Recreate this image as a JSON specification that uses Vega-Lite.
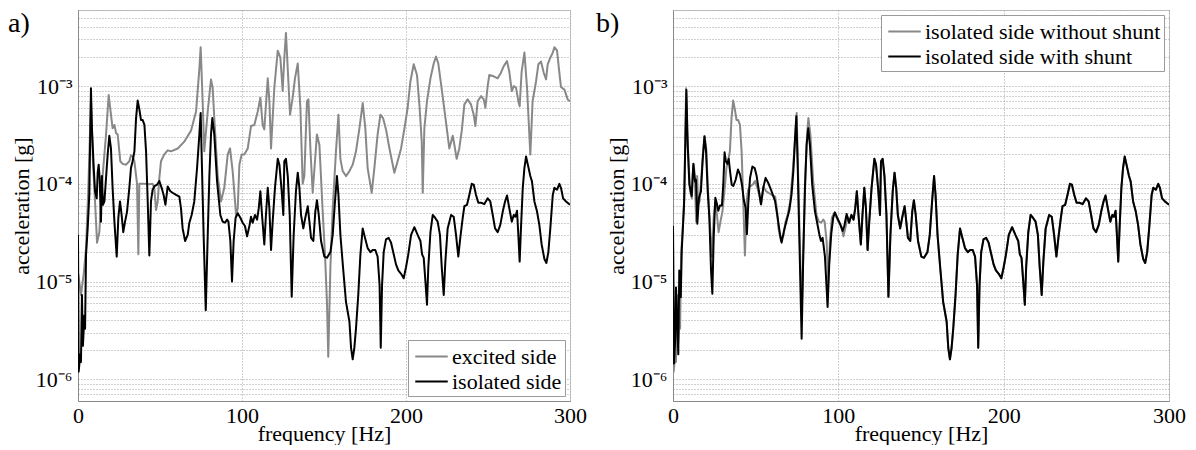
{
  "$schema": "https://vega.github.io/schema/vega-lite/v6.json",
  "padding": {"left": 7, "top": 8, "right": 0, "bottom": 0},
  "spacing": 8,
  "background": "white",
  "config": {
    "font": "Liberation Serif",
    "view": {"stroke": "#c8c8c8"},
    "axis": {
      "labelFont": "Liberation Serif", "titleFont": "Liberation Serif",
      "labelFontSize": 22, "titleFontSize": 22, "titleFontWeight": "normal",
      "labelColor": "#000000", "titleColor": "#000000",
      "domainColor": "#8a8a8a", "ticks": false,
      "gridColor": "#a0a0a0", "gridDash": [1, 2], "gridWidth": 1, "gridOpacity": 1,
      "labelFlush": false, "labelOverlap": false
    },
    "legend": {
      "labelFont": "Liberation Serif", "labelFontSize": 22, "labelColor": "#000000",
      "symbolType": "M-1.3,0H1.3", "symbolSize": 625, "symbolStrokeWidth": 2, "symbolOffset": 7,
      "fillColor": "white", "strokeColor": "#9a9a9a", "padding": 3, "rowPadding": -1,
      "labelOffset": 7, "labelLimit": 400, "offset": 5
    },
    "title": {"font": "Liberation Serif", "fontSize": 28, "fontWeight": "normal", "color": "#000000"}
  },
  "datasets": {
    "excited": [
      {"f":0.2,"a":1.2e-5},{"f":1.8,"a":7.3e-6},{"f":3.5,"a":1.2e-5},{"f":4.9,"a":2.2e-5},{"f":6.3,"a":9.1e-5},{"f":7.9,"a":7.0e-4},{"f":9.1,"a":1.7e-4},{"f":10.4,"a":6.6e-5},{"f":11.6,"a":2.5e-5},{"f":13.0,"a":3.2e-5},{"f":15.0,"a":1.2e-4},{"f":17.1,"a":3.2e-4},{"f":18.7,"a":8.1e-4},{"f":20.1,"a":5.1e-4},{"f":21.1,"a":3.7e-4},{"f":22.2,"a":4.0e-4},{"f":23.2,"a":3.3e-4},{"f":24.2,"a":3.2e-4},{"f":25.8,"a":1.7e-4},{"f":27.2,"a":1.6e-4},{"f":29.3,"a":1.57e-4},{"f":31.3,"a":1.7e-4},{"f":32.3,"a":1.96e-4},{"f":33.3,"a":1.9e-4},{"f":34.4,"a":1.7e-4},{"f":36.0,"a":1.0e-4},{"f":36.8,"a":1.9e-5},{"f":37.4,"a":1.0e-4},{"f":40.5,"a":1.0e-4},{"f":43.5,"a":9.9e-5},{"f":45.5,"a":1.0e-4},{"f":46.5,"a":9.1e-5},{"f":47.6,"a":5.4e-5},{"f":48.6,"a":6.6e-5},{"f":49.6,"a":1.15e-4},{"f":50.6,"a":1.7e-4},{"f":52.6,"a":2.0e-4},{"f":54.7,"a":2.2e-4},{"f":56.7,"a":2.15e-4},{"f":60.8,"a":2.3e-4},{"f":64.8,"a":2.7e-4},{"f":68.9,"a":3.5e-4},{"f":72.0,"a":5.5e-4},{"f":74.0,"a":1.5e-3},{"f":74.8,"a":2.5e-3},{"f":76.0,"a":7.0e-4},{"f":77.0,"a":2.15e-4},{"f":79.1,"a":5.5e-4},{"f":81.1,"a":1.17e-3},{"f":82.1,"a":9.6e-4},{"f":83.1,"a":4.7e-4},{"f":85.2,"a":1.2e-4},{"f":87.2,"a":6.6e-5},{"f":89.2,"a":9.1e-5},{"f":91.3,"a":2.0e-4},{"f":92.7,"a":2.3e-4},{"f":94.3,"a":1.35e-4},{"f":96.4,"a":4.8e-5},{"f":97.4,"a":5.6e-5},{"f":98.4,"a":1.57e-4},{"f":99.8,"a":2.0e-4},{"f":101.4,"a":2.0e-4},{"f":103.5,"a":2.3e-4},{"f":105.5,"a":3.9e-4},{"f":107.5,"a":4.0e-4},{"f":109.6,"a":5.5e-4},{"f":111.2,"a":7.6e-4},{"f":112.6,"a":4.0e-4},{"f":113.6,"a":3.6e-4},{"f":115.7,"a":1.2e-3},{"f":116.7,"a":7.0e-4},{"f":117.7,"a":2.3e-4},{"f":118.7,"a":4.7e-4},{"f":119.7,"a":9.6e-4},{"f":121.8,"a":2.3e-3},{"f":123.4,"a":1.95e-3},{"f":124.8,"a":8.9e-4},{"f":125.8,"a":1.95e-3},{"f":126.8,"a":3.5e-3},{"f":127.9,"a":1.5e-3},{"f":129.3,"a":5.1e-4},{"f":130.9,"a":7.6e-4},{"f":132.3,"a":1.2e-3},{"f":134.0,"a":1.7e-3},{"f":135.6,"a":6.0e-4},{"f":137.0,"a":1.0e-4},{"f":138.0,"a":1.2e-4},{"f":139.6,"a":7.0e-4},{"f":140.5,"a":7.3e-4},{"f":141.7,"a":2.3e-4},{"f":143.1,"a":8.1e-5},{"f":144.5,"a":1.7e-4},{"f":145.7,"a":3.2e-4},{"f":147.2,"a":2.5e-4},{"f":149.2,"a":5.2e-5},{"f":150.6,"a":1.9e-5},{"f":151.8,"a":6.2e-6},{"f":152.6,"a":1.7e-6},{"f":153.9,"a":1.4e-5},{"f":155.3,"a":5.6e-5},{"f":157.3,"a":2.15e-4},{"f":158.8,"a":5.1e-4},{"f":160.0,"a":1.8e-4},{"f":161.4,"a":1.35e-4},{"f":163.4,"a":1.2e-4},{"f":165.5,"a":1.35e-4},{"f":167.5,"a":1.57e-4},{"f":169.5,"a":2.15e-4},{"f":171.6,"a":3.7e-4},{"f":173.6,"a":6.7e-4},{"f":175.2,"a":3.7e-4},{"f":176.6,"a":1.45e-4},{"f":179.1,"a":8.1e-5},{"f":180.7,"a":1.45e-4},{"f":182.7,"a":3.2e-4},{"f":184.4,"a":5.1e-4},{"f":186.0,"a":4.7e-4},{"f":187.8,"a":3.6e-4},{"f":189.9,"a":2.3e-4},{"f":192.9,"a":1.3e-4},{"f":194.9,"a":1.7e-4},{"f":197.0,"a":2.3e-4},{"f":199.4,"a":4.0e-4},{"f":201.0,"a":6.0e-4},{"f":202.7,"a":1.12e-3},{"f":204.7,"a":1.67e-3},{"f":206.7,"a":1.3e-3},{"f":208.3,"a":6.0e-4},{"f":209.6,"a":2.7e-4},{"f":210.2,"a":8.1e-5},{"f":211.2,"a":3.7e-4},{"f":212.8,"a":7.0e-4},{"f":214.9,"a":1.2e-3},{"f":216.9,"a":1.7e-3},{"f":218.3,"a":2.0e-3},{"f":219.7,"a":1.7e-3},{"f":221.4,"a":1.04e-3},{"f":223.8,"a":5.1e-4},{"f":226.4,"a":2.3e-4},{"f":228.5,"a":3.1e-4},{"f":229.5,"a":2.5e-4},{"f":230.9,"a":1.8e-4},{"f":232.5,"a":2.3e-4},{"f":234.0,"a":3.5e-4},{"f":235.6,"a":6.5e-4},{"f":237.6,"a":7.3e-4},{"f":239.6,"a":6.5e-4},{"f":241.3,"a":5.1e-4},{"f":242.3,"a":3.9e-4},{"f":243.7,"a":7.0e-4},{"f":245.8,"a":7.9e-4},{"f":247.4,"a":7.3e-4},{"f":248.4,"a":6.0e-4},{"f":249.8,"a":1.0e-3},{"f":250.8,"a":1.3e-3},{"f":252.9,"a":1.27e-3},{"f":255.9,"a":1.2e-3},{"f":257.9,"a":1.37e-3},{"f":259.6,"a":1.6e-3},{"f":261.6,"a":1.8e-3},{"f":263.0,"a":1.4e-3},{"f":264.5,"a":8.9e-4},{"f":265.7,"a":1.0e-3},{"f":267.1,"a":9.6e-4},{"f":268.5,"a":7.0e-4},{"f":269.3,"a":6.2e-4},{"f":270.5,"a":1.4e-3},{"f":272.2,"a":2.2e-3},{"f":273.8,"a":9.6e-4},{"f":275.2,"a":3.2e-4},{"f":275.8,"a":2.0e-4},{"f":277.2,"a":7.0e-4},{"f":279.3,"a":1.12e-3},{"f":280.7,"a":1.67e-3},{"f":282.3,"a":1.78e-3},{"f":284.0,"a":1.37e-3},{"f":285.4,"a":1.17e-3},{"f":286.4,"a":1.67e-3},{"f":288.0,"a":1.95e-3},{"f":289.5,"a":2.2e-3},{"f":290.5,"a":2.5e-3},{"f":292.1,"a":2.3e-3},{"f":293.5,"a":1.37e-3},{"f":294.5,"a":9.8e-4},{"f":296.6,"a":9.2e-4},{"f":298.6,"a":7.3e-4},{"f":300,"a":7.0e-4}
    ],
    "isolated": [
      {"f":0,"a":3.0e-5},{"f":0.4,"a":1.2e-6},{"f":1.4,"a":1.8e-6},{"f":1.8,"a":1.5e-6},{"f":2.4,"a":7.3e-6},{"f":3.0,"a":2.2e-6},{"f":3.9,"a":4.5e-6},{"f":4.3,"a":3.3e-6},{"f":4.9,"a":1.9e-5},{"f":5.9,"a":3.5e-5},{"f":6.9,"a":7.7e-5},{"f":7.9,"a":9.5e-4},{"f":8.5,"a":3.7e-4},{"f":9.6,"a":1.45e-4},{"f":10.4,"a":8.4e-5},{"f":11.4,"a":7.1e-5},{"f":12.0,"a":1.3e-4},{"f":12.6,"a":1.57e-4},{"f":13.2,"a":1.15e-4},{"f":14.0,"a":4.1e-5},{"f":14.6,"a":1.2e-4},{"f":15.2,"a":6.1e-5},{"f":16.1,"a":6.6e-5},{"f":17.1,"a":1.15e-4},{"f":18.1,"a":2.0e-4},{"f":19.1,"a":3.1e-4},{"f":20.1,"a":2.3e-4},{"f":21.1,"a":9.1e-5},{"f":22.2,"a":4.1e-5},{"f":23.6,"a":1.8e-5},{"f":24.6,"a":4.5e-5},{"f":25.6,"a":6.6e-5},{"f":26.6,"a":4.8e-5},{"f":27.6,"a":3.2e-5},{"f":28.7,"a":4.1e-5},{"f":29.9,"a":5.2e-5},{"f":31.3,"a":9.1e-5},{"f":32.3,"a":1.45e-4},{"f":33.3,"a":1.7e-4},{"f":34.4,"a":2.15e-4},{"f":35.4,"a":4.7e-4},{"f":36.4,"a":7.1e-4},{"f":37.4,"a":5.8e-4},{"f":38.4,"a":4.5e-4},{"f":39.4,"a":4.5e-4},{"f":40.5,"a":4.0e-4},{"f":41.5,"a":2.15e-4},{"f":42.5,"a":6.6e-5},{"f":43.5,"a":1.85e-5},{"f":44.5,"a":6.6e-5},{"f":45.5,"a":8.7e-5},{"f":46.5,"a":9.4e-5},{"f":48.2,"a":9.8e-5},{"f":49.6,"a":1.07e-4},{"f":51.0,"a":9.1e-5},{"f":52.2,"a":7.7e-5},{"f":53.3,"a":6.1e-5},{"f":54.7,"a":9.4e-5},{"f":56.3,"a":8.4e-5},{"f":57.7,"a":8.1e-5},{"f":59.8,"a":7.7e-5},{"f":61.8,"a":7.4e-5},{"f":62.8,"a":5.6e-5},{"f":63.8,"a":3.5e-5},{"f":65.3,"a":2.6e-5},{"f":66.9,"a":3.0e-5},{"f":67.9,"a":4.0e-5},{"f":69.3,"a":4.8e-5},{"f":70.9,"a":6.6e-5},{"f":72.6,"a":1.45e-4},{"f":74.0,"a":3.2e-4},{"f":74.8,"a":5.3e-4},{"f":75.6,"a":1.45e-4},{"f":76.6,"a":3.0e-5},{"f":77.9,"a":5.1e-6},{"f":79.1,"a":3.0e-5},{"f":80.1,"a":1.2e-4},{"f":81.1,"a":3.2e-4},{"f":81.9,"a":4.7e-4},{"f":83.1,"a":3.2e-4},{"f":84.8,"a":1.06e-4},{"f":86.8,"a":4.8e-5},{"f":88.2,"a":4.1e-5},{"f":89.6,"a":4.0e-5},{"f":90.9,"a":4.3e-5},{"f":91.7,"a":4.1e-5},{"f":92.9,"a":2.6e-5},{"f":93.9,"a":1.0e-5},{"f":94.9,"a":2.6e-5},{"f":96.1,"a":4.5e-5},{"f":97.4,"a":5.0e-5},{"f":99.0,"a":4.5e-5},{"f":100.4,"a":4.0e-5},{"f":101.8,"a":3.7e-5},{"f":103.1,"a":2.9e-5},{"f":104.5,"a":3.7e-5},{"f":105.5,"a":4.6e-5},{"f":106.5,"a":4.0e-5},{"f":107.9,"a":4.8e-5},{"f":109.2,"a":4.3e-5},{"f":110.2,"a":5.6e-5},{"f":111.2,"a":8.4e-5},{"f":112.2,"a":4.8e-5},{"f":113.6,"a":2.4e-5},{"f":114.6,"a":4.8e-5},{"f":115.7,"a":9.1e-5},{"f":116.7,"a":5.6e-5},{"f":117.7,"a":2.1e-5},{"f":118.7,"a":4.1e-5},{"f":120.1,"a":9.1e-5},{"f":121.8,"a":1.8e-4},{"f":122.8,"a":1.57e-4},{"f":124.2,"a":8.4e-5},{"f":125.2,"a":4.8e-5},{"f":125.8,"a":1.7e-4},{"f":126.8,"a":1.8e-4},{"f":127.9,"a":1.2e-4},{"f":129.1,"a":4.8e-5},{"f":130.3,"a":7.0e-6},{"f":131.5,"a":3.0e-5},{"f":132.9,"a":8.4e-5},{"f":134.0,"a":1.3e-4},{"f":135.0,"a":9.1e-5},{"f":136.0,"a":4.8e-5},{"f":137.4,"a":3.5e-5},{"f":138.6,"a":4.5e-5},{"f":140.1,"a":5.9e-5},{"f":141.1,"a":4.1e-5},{"f":142.1,"a":2.8e-5},{"f":143.5,"a":2.6e-5},{"f":144.7,"a":5.2e-5},{"f":145.7,"a":6.8e-5},{"f":146.8,"a":4.8e-5},{"f":148.2,"a":2.6e-5},{"f":150.2,"a":1.8e-5},{"f":151.8,"a":1.75e-5},{"f":153.9,"a":2.0e-5},{"f":155.3,"a":3.0e-5},{"f":156.7,"a":6.6e-5},{"f":157.9,"a":1.2e-4},{"f":158.8,"a":7.7e-5},{"f":160.0,"a":3.0e-5},{"f":161.6,"a":1.4e-5},{"f":163.4,"a":6.2e-6},{"f":165.5,"a":3.9e-6},{"f":166.5,"a":2.1e-6},{"f":167.5,"a":1.6e-6},{"f":168.5,"a":2.1e-6},{"f":169.5,"a":3.3e-6},{"f":170.9,"a":7.3e-6},{"f":172.2,"a":1.9e-5},{"f":173.6,"a":3.5e-5},{"f":175.0,"a":2.8e-5},{"f":176.6,"a":2.2e-5},{"f":178.3,"a":2.0e-5},{"f":179.7,"a":2.1e-5},{"f":181.3,"a":2.1e-5},{"f":182.7,"a":1.8e-5},{"f":183.9,"a":9.2e-6},{"f":184.6,"a":2.1e-6},{"f":185.4,"a":9.2e-6},{"f":186.4,"a":2.0e-5},{"f":187.8,"a":2.7e-5},{"f":189.4,"a":2.8e-5},{"f":190.9,"a":2.5e-5},{"f":192.5,"a":1.9e-5},{"f":193.9,"a":1.5e-5},{"f":195.3,"a":1.3e-5},{"f":197.0,"a":1.2e-5},{"f":198.6,"a":1.08e-5},{"f":200.0,"a":1.4e-5},{"f":201.4,"a":1.9e-5},{"f":203.1,"a":3.0e-5},{"f":205.1,"a":3.6e-5},{"f":207.1,"a":3.0e-5},{"f":208.8,"a":2.6e-5},{"f":209.8,"a":1.9e-5},{"f":210.8,"a":1.75e-5},{"f":212.0,"a":9.2e-6},{"f":212.8,"a":5.8e-6},{"f":213.6,"a":1.4e-5},{"f":214.9,"a":3.2e-5},{"f":216.3,"a":4.8e-5},{"f":217.7,"a":4.5e-5},{"f":219.3,"a":4.1e-5},{"f":220.7,"a":3.0e-5},{"f":221.8,"a":1.4e-5},{"f":223.0,"a":7.3e-6},{"f":224.0,"a":1.6e-5},{"f":225.4,"a":3.5e-5},{"f":227.5,"a":4.8e-5},{"f":229.1,"a":4.6e-5},{"f":230.5,"a":3.0e-5},{"f":231.9,"a":1.8e-5},{"f":233.1,"a":2.8e-5},{"f":234.6,"a":4.5e-5},{"f":235.6,"a":5.9e-5},{"f":237.2,"a":6.1e-5},{"f":238.6,"a":7.7e-5},{"f":240.1,"a":1.0e-4},{"f":241.3,"a":9.8e-5},{"f":242.7,"a":7.7e-5},{"f":244.1,"a":6.4e-5},{"f":245.8,"a":6.4e-5},{"f":247.8,"a":6.2e-5},{"f":249.8,"a":7.1e-5},{"f":251.4,"a":6.6e-5},{"f":252.9,"a":4.8e-5},{"f":254.3,"a":3.5e-5},{"f":255.9,"a":3.2e-5},{"f":257.5,"a":3.8e-5},{"f":259.0,"a":5.2e-5},{"f":260.4,"a":6.6e-5},{"f":261.6,"a":7.6e-5},{"f":263.0,"a":5.6e-5},{"f":264.5,"a":4.1e-5},{"f":265.7,"a":4.8e-5},{"f":266.7,"a":4.6e-5},{"f":267.7,"a":5.3e-5},{"f":268.5,"a":3.0e-5},{"f":269.3,"a":1.6e-5},{"f":270.1,"a":3.5e-5},{"f":271.2,"a":9.1e-5},{"f":272.2,"a":1.45e-4},{"f":273.2,"a":1.9e-4},{"f":274.2,"a":1.6e-4},{"f":275.8,"a":1.2e-4},{"f":276.8,"a":1.06e-4},{"f":278.3,"a":6.6e-5},{"f":279.9,"a":5.2e-5},{"f":281.3,"a":3.8e-5},{"f":282.7,"a":2.4e-5},{"f":284.4,"a":1.7e-5},{"f":285.6,"a":1.55e-5},{"f":286.8,"a":2.0e-5},{"f":288.0,"a":3.5e-5},{"f":289.5,"a":7.7e-5},{"f":290.5,"a":9.1e-5},{"f":292.1,"a":8.7e-5},{"f":293.5,"a":1.0e-4},{"f":294.5,"a":9.1e-5},{"f":295.8,"a":7.1e-5},{"f":297.6,"a":6.6e-5},{"f":300,"a":6.1e-5}
    ],
    "shunt": [
      {"f":0,"a":3.7e-5},{"f":0.6,"a":1.45e-6},{"f":1.4,"a":2.7e-6},{"f":1.8,"a":8.7e-6},{"f":2.4,"a":4.7e-6},{"f":3.2,"a":1.8e-6},{"f":3.8,"a":1.3e-5},{"f":4.7,"a":6.9e-6},{"f":5.3,"a":2.1e-5},{"f":6.7,"a":6.2e-5},{"f":8.1,"a":9.1e-4},{"f":8.9,"a":2.5e-4},{"f":9.9,"a":9.8e-5},{"f":11.3,"a":7.5e-5},{"f":12.3,"a":1.6e-4},{"f":13.3,"a":1.06e-4},{"f":13.9,"a":1.1e-4},{"f":14.7,"a":3.9e-5},{"f":15.7,"a":7.2e-5},{"f":16.9,"a":8.4e-5},{"f":17.9,"a":1.7e-4},{"f":19.0,"a":3.05e-4},{"f":20.0,"a":2.15e-4},{"f":21.0,"a":8.4e-5},{"f":22.0,"a":4.5e-5},{"f":23.0,"a":1.3e-5},{"f":23.8,"a":7.5e-6},{"f":24.6,"a":2.8e-5},{"f":25.6,"a":7.2e-5},{"f":26.4,"a":6.4e-5},{"f":27.4,"a":5.3e-5},{"f":28.4,"a":6.0e-5},{"f":29.6,"a":6.0e-5},{"f":30.4,"a":9.8e-5},{"f":31.2,"a":2.1e-4},{"f":32.0,"a":1.7e-4},{"f":32.9,"a":1.6e-4},{"f":33.7,"a":1.8e-4},{"f":34.5,"a":1.35e-4},{"f":35.5,"a":9.8e-5},{"f":36.5,"a":9.5e-5},{"f":37.9,"a":1.1e-4},{"f":39.3,"a":1.4e-4},{"f":40.5,"a":1.25e-4},{"f":41.7,"a":9.8e-5},{"f":42.9,"a":6.7e-5},{"f":43.9,"a":5.7e-5},{"f":44.7,"a":3.05e-5},{"f":45.5,"a":6.2e-5},{"f":46.6,"a":1.15e-4},{"f":48.0,"a":1.5e-4},{"f":49.4,"a":1.45e-4},{"f":50.6,"a":1.2e-4},{"f":51.8,"a":8.8e-5},{"f":53.2,"a":6.2e-5},{"f":54.6,"a":9.1e-5},{"f":56.0,"a":1.15e-4},{"f":57.6,"a":1.02e-4},{"f":59.6,"a":8.4e-5},{"f":61.7,"a":6.7e-5},{"f":63.3,"a":4.5e-5},{"f":64.7,"a":3.05e-5},{"f":65.7,"a":2.5e-5},{"f":67.1,"a":3.3e-5},{"f":68.7,"a":4.2e-5},{"f":70.3,"a":5.3e-5},{"f":71.7,"a":7.8e-5},{"f":72.8,"a":1.35e-4},{"f":73.8,"a":2.9e-4},{"f":74.6,"a":4.9e-4},{"f":75.4,"a":1.6e-4},{"f":76.4,"a":2.8e-5},{"f":77.8,"a":2.6e-6},{"f":78.8,"a":1.9e-5},{"f":79.8,"a":9.1e-5},{"f":80.8,"a":2.5e-4},{"f":81.8,"a":3.7e-4},{"f":82.8,"a":2.5e-4},{"f":84.2,"a":9.8e-5},{"f":85.8,"a":5.3e-5},{"f":87.3,"a":3.9e-5},{"f":88.5,"a":3.05e-5},{"f":89.5,"a":2.6e-5},{"f":90.5,"a":2.8e-5},{"f":91.9,"a":1.8e-5},{"f":93.5,"a":5.5e-6},{"f":94.5,"a":1.5e-5},{"f":95.7,"a":3.05e-5},{"f":96.9,"a":4.5e-5},{"f":97.9,"a":5.1e-5},{"f":99.3,"a":4.5e-5},{"f":101.0,"a":3.9e-5},{"f":102.6,"a":3.3e-5},{"f":103.6,"a":3.7e-5},{"f":105.0,"a":4.9e-5},
      {"f":105.5,"a":4.6e-5},{"f":106.5,"a":4.0e-5},{"f":107.9,"a":4.8e-5},{"f":109.2,"a":4.3e-5},{"f":110.2,"a":5.6e-5},{"f":111.2,"a":8.4e-5},{"f":112.2,"a":4.8e-5},{"f":113.6,"a":2.4e-5},{"f":114.6,"a":4.8e-5},{"f":115.7,"a":9.1e-5},{"f":116.7,"a":5.6e-5},{"f":117.7,"a":2.1e-5},{"f":118.7,"a":4.1e-5},{"f":120.1,"a":9.1e-5},{"f":121.8,"a":1.8e-4},{"f":122.8,"a":1.57e-4},{"f":124.2,"a":8.4e-5},{"f":125.2,"a":4.8e-5},{"f":125.8,"a":1.7e-4},{"f":126.8,"a":1.8e-4},{"f":127.9,"a":1.2e-4},{"f":129.1,"a":4.8e-5},{"f":130.3,"a":7.0e-6},{"f":131.5,"a":3.0e-5},{"f":132.9,"a":8.4e-5},{"f":134.0,"a":1.3e-4},{"f":135.0,"a":9.1e-5},{"f":136.0,"a":4.8e-5},{"f":137.4,"a":3.5e-5},{"f":138.6,"a":4.5e-5},{"f":140.1,"a":5.9e-5},{"f":141.1,"a":4.1e-5},{"f":142.1,"a":2.8e-5},{"f":143.5,"a":2.6e-5},{"f":144.7,"a":5.2e-5},{"f":145.7,"a":6.8e-5},{"f":146.8,"a":4.8e-5},{"f":148.2,"a":2.6e-5},{"f":150.2,"a":1.8e-5},{"f":151.8,"a":1.75e-5},{"f":153.9,"a":2.0e-5},{"f":155.3,"a":3.0e-5},{"f":156.7,"a":6.6e-5},{"f":157.9,"a":1.2e-4},{"f":158.8,"a":7.7e-5},{"f":160.0,"a":3.0e-5},{"f":161.6,"a":1.4e-5},{"f":163.4,"a":6.2e-6},{"f":165.5,"a":3.9e-6},{"f":166.5,"a":2.1e-6},{"f":167.5,"a":1.6e-6},{"f":168.5,"a":2.1e-6},{"f":169.5,"a":3.3e-6},{"f":170.9,"a":7.3e-6},{"f":172.2,"a":1.9e-5},{"f":173.6,"a":3.5e-5},{"f":175.0,"a":2.8e-5},{"f":176.6,"a":2.2e-5},{"f":178.3,"a":2.0e-5},{"f":179.7,"a":2.1e-5},{"f":181.3,"a":2.1e-5},{"f":182.7,"a":1.8e-5},{"f":183.9,"a":9.2e-6},{"f":184.6,"a":2.1e-6},{"f":185.4,"a":9.2e-6},{"f":186.4,"a":2.0e-5},{"f":187.8,"a":2.7e-5},{"f":189.4,"a":2.8e-5},{"f":190.9,"a":2.5e-5},{"f":192.5,"a":1.9e-5},{"f":193.9,"a":1.5e-5},{"f":195.3,"a":1.3e-5},{"f":197.0,"a":1.2e-5},{"f":198.6,"a":1.08e-5},{"f":200.0,"a":1.4e-5},{"f":201.4,"a":1.9e-5},{"f":203.1,"a":3.0e-5},{"f":205.1,"a":3.6e-5},{"f":207.1,"a":3.0e-5},{"f":208.8,"a":2.6e-5},{"f":209.8,"a":1.9e-5},{"f":210.8,"a":1.75e-5},{"f":212.0,"a":9.2e-6},{"f":212.8,"a":5.8e-6},{"f":213.6,"a":1.4e-5},{"f":214.9,"a":3.2e-5},{"f":216.3,"a":4.8e-5},{"f":217.7,"a":4.5e-5},{"f":219.3,"a":4.1e-5},{"f":220.7,"a":3.0e-5},{"f":221.8,"a":1.4e-5},{"f":223.0,"a":7.3e-6},{"f":224.0,"a":1.6e-5},{"f":225.4,"a":3.5e-5},{"f":227.5,"a":4.8e-5},{"f":229.1,"a":4.6e-5},{"f":230.5,"a":3.0e-5},{"f":231.9,"a":1.8e-5},{"f":233.1,"a":2.8e-5},{"f":234.6,"a":4.5e-5},{"f":235.6,"a":5.9e-5},{"f":237.2,"a":6.1e-5},{"f":238.6,"a":7.7e-5},{"f":240.1,"a":1.0e-4},{"f":241.3,"a":9.8e-5},{"f":242.7,"a":7.7e-5},{"f":244.1,"a":6.4e-5},{"f":245.8,"a":6.4e-5},{"f":247.8,"a":6.2e-5},{"f":249.8,"a":7.1e-5},{"f":251.4,"a":6.6e-5},{"f":252.9,"a":4.8e-5},{"f":254.3,"a":3.5e-5},{"f":255.9,"a":3.2e-5},{"f":257.5,"a":3.8e-5},{"f":259.0,"a":5.2e-5},{"f":260.4,"a":6.6e-5},{"f":261.6,"a":7.6e-5},{"f":263.0,"a":5.6e-5},{"f":264.5,"a":4.1e-5},{"f":265.7,"a":4.8e-5},{"f":266.7,"a":4.6e-5},{"f":267.7,"a":5.3e-5},{"f":268.5,"a":3.0e-5},{"f":269.3,"a":1.6e-5},{"f":270.1,"a":3.5e-5},{"f":271.2,"a":9.1e-5},{"f":272.2,"a":1.45e-4},{"f":273.2,"a":1.9e-4},{"f":274.2,"a":1.6e-4},{"f":275.8,"a":1.2e-4},{"f":276.8,"a":1.06e-4},{"f":278.3,"a":6.6e-5},{"f":279.9,"a":5.2e-5},{"f":281.3,"a":3.8e-5},{"f":282.7,"a":2.4e-5},{"f":284.4,"a":1.7e-5},{"f":285.6,"a":1.55e-5},{"f":286.8,"a":2.0e-5},{"f":288.0,"a":3.5e-5},{"f":289.5,"a":7.7e-5},{"f":290.5,"a":9.1e-5},{"f":292.1,"a":8.7e-5},{"f":293.5,"a":1.0e-4},{"f":294.5,"a":9.1e-5},{"f":295.8,"a":7.1e-5},{"f":297.6,"a":6.6e-5},{"f":300,"a":6.1e-5}
    ]
  },
  "hconcat": [
    {
      "width": 492, "height": 391,
      "title": {"text": "a)", "anchor": "start", "frame": "group", "orient": "top", "dx": -70, "offset": -29, "font": "Liberation Serif", "fontSize": 28, "fontWeight": "normal"},
      "encoding": {
        "x": {"field": "f", "type": "quantitative",
              "scale": {"domain": [0, 300], "nice": false, "zero": false},
              "axis": {"values": [0, 100, 200, 300], "title": "frequency [Hz]", "grid": true, "labelPadding": 4, "titlePadding": -3,
                       "labelFont": "Liberation Serif", "titleFont": "Liberation Serif", "labelFontSize": 22, "titleFontSize": 22, "titleFontWeight": "normal", "labelFlush": false}},
        "y": {"field": "a", "type": "quantitative",
              "scale": {"type": "log", "domain": [6e-7, 6e-3], "nice": false},
              "axis": {"values": [7e-7, 8e-7, 9e-7, 1e-6, 2e-6, 3e-6, 4e-6, 5e-6, 6e-6, 7e-6, 8e-6, 9e-6, 1e-5, 2e-5, 3e-5, 4e-5, 5e-5, 6e-5, 7e-5, 8e-5, 9e-5, 1e-4, 2e-4, 3e-4, 4e-4, 5e-4, 6e-4, 7e-4, 8e-4, 9e-4, 1e-3, 2e-3, 3e-3, 4e-3, 5e-3, 6e-3],
                       "labelExpr": "datum.value == 0.001 ? '10⁻³' : datum.value == 0.0001 ? '10⁻⁴' : datum.value == 0.00001 ? '10⁻⁵' : datum.value == 0.000001 ? '10⁻⁶' : ''",
                       "labelFontSize": {"condition": {"test": "datum.value == 0.001 || datum.value == 0.0001 || datum.value == 0.00001 || datum.value == 0.000001", "value": 22}, "value": 1},
                       "labelFont": "Liberation Serif", "titleFont": "Liberation Serif", "titleFontSize": 22, "titleFontWeight": "normal", "labelFlush": false,
                       "title": "acceleration [g]", "labelPadding": 6, "titlePadding": 2}}
      },
      "layer": [
        {"data": {"name": "excited"},
         "mark": {"type": "line", "strokeWidth": 2, "strokeJoin": "round", "clip": true},
         "encoding": {"color": {"datum": "excited side", "type": "nominal",
                                "scale": {"domain": ["excited side", "isolated side"], "range": ["#888888", "#000000"]},
                                "legend": {"title": null, "orient": "bottom-right", "labelFont": "Liberation Serif", "labelFontSize": 22}}}},
        {"data": {"name": "isolated"},
         "mark": {"type": "line", "strokeWidth": 2, "strokeJoin": "round", "clip": true},
         "encoding": {"color": {"datum": "isolated side", "type": "nominal"}}}
      ]
    },
    {
      "width": 496, "height": 391,
      "title": {"text": "b)", "anchor": "start", "frame": "group", "orient": "top", "dx": -77, "offset": -29, "font": "Liberation Serif", "fontSize": 28, "fontWeight": "normal"},
      "encoding": {
        "x": {"field": "f", "type": "quantitative",
              "scale": {"domain": [0, 300], "nice": false, "zero": false},
              "axis": {"values": [0, 100, 200, 300], "title": "frequency [Hz]", "grid": true, "labelPadding": 4, "titlePadding": -3,
                       "labelFont": "Liberation Serif", "titleFont": "Liberation Serif", "labelFontSize": 22, "titleFontSize": 22, "titleFontWeight": "normal", "labelFlush": false}},
        "y": {"field": "a", "type": "quantitative",
              "scale": {"type": "log", "domain": [6e-7, 6e-3], "nice": false},
              "axis": {"values": [7e-7, 8e-7, 9e-7, 1e-6, 2e-6, 3e-6, 4e-6, 5e-6, 6e-6, 7e-6, 8e-6, 9e-6, 1e-5, 2e-5, 3e-5, 4e-5, 5e-5, 6e-5, 7e-5, 8e-5, 9e-5, 1e-4, 2e-4, 3e-4, 4e-4, 5e-4, 6e-4, 7e-4, 8e-4, 9e-4, 1e-3, 2e-3, 3e-3, 4e-3, 5e-3, 6e-3],
                       "labelExpr": "datum.value == 0.001 ? '10⁻³' : datum.value == 0.0001 ? '10⁻⁴' : datum.value == 0.00001 ? '10⁻⁵' : datum.value == 0.000001 ? '10⁻⁶' : ''",
                       "labelFontSize": {"condition": {"test": "datum.value == 0.001 || datum.value == 0.0001 || datum.value == 0.00001 || datum.value == 0.000001", "value": 22}, "value": 1},
                       "labelFont": "Liberation Serif", "titleFont": "Liberation Serif", "titleFontSize": 22, "titleFontWeight": "normal", "labelFlush": false,
                       "title": "acceleration [g]", "labelPadding": 6, "titlePadding": 2}}
      },
      "layer": [
        {"data": {"name": "isolated"},
         "mark": {"type": "line", "strokeWidth": 2, "strokeJoin": "round", "clip": true},
         "encoding": {"color": {"datum": "isolated side without shunt", "type": "nominal",
                                "scale": {"domain": ["isolated side without shunt", "isolated side with shunt"], "range": ["#888888", "#000000"]},
                                "legend": {"title": null, "orient": "top-right", "labelFont": "Liberation Serif", "labelFontSize": 22}}}},
        {"data": {"name": "shunt"},
         "mark": {"type": "line", "strokeWidth": 2, "strokeJoin": "round", "clip": true},
         "encoding": {"color": {"datum": "isolated side with shunt", "type": "nominal"}}}
      ]
    }
  ],
  "resolve": {"scale": {"color": "independent"}}
}
